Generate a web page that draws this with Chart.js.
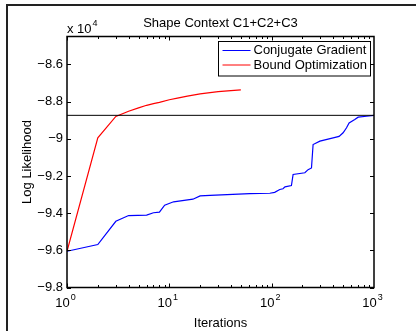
<!DOCTYPE html>
<html>
<head>
<meta charset="utf-8">
<title>Shape Context C1+C2+C3</title>
<script src="https://cdn.jsdelivr.net/npm/chart.js@4/dist/chart.umd.min.js"></script>
<style>
  html, body { margin: 0; padding: 0; background: #fff; }
  #wrap { position: relative; width: 416px; height: 331px; overflow: hidden; }
  #frame { position: absolute; left: 6px; top: 4px; width: 430px; height: 350px; border: 2px solid #222; }
  #chart { position: absolute; left: 0; top: 0; }
</style>
</head>
<body>
<div id="wrap">
  <div id="frame"></div>
  <canvas id="chart" width="416" height="331"></canvas>
</div>
<script>
const FONT = "'Liberation Sans', Arial, Helvetica, sans-serif";

const titleText = "Shape Context C1+C2+C3";
const xTitle = "Iterations";
const yTitle = "Log Likelihood";

// conjugate gradient
const cgIter = [1, 2, 3, 4, 6, 7, 8, 9, 11, 17, 20, 25, 61, 96, 107, 120, 129, 135,
  156, 162, 211, 227, 245, 254, 296, 399, 456, 499, 539, 571, 649, 700, 845, 1000];
const cgLL = [-96050, -95690, -94440, -94130, -94110, -93980, -93950, -93570, -93390,
  -93250, -93070, -93050, -92950, -92930, -92880, -92730, -92690, -92590,
  -92520, -91920, -91830, -91660, -91570, -90310, -90130, -89950, -89870, -89680,
  -89410, -89150, -88970, -88840, -88790, -88740];

// bound optimization
const boIter = [1, 2, 3, 4, 5, 6, 7, 8, 10, 12, 15, 20, 25, 30, 40, 50];
const boLL = [-96050, -89950, -88800, -88520, -88340, -88200, -88110, -88040,
  -87900, -87810, -87710, -87590, -87520, -87470, -87410, -87370];

// horizontal reference line
const refIter = [1, 1000];
const refLL = [-88740, -88740];

const yTicks = [-98000, -96000, -94000, -92000, -90000, -88000, -86000];
const xTicks = [1, 10, 100, 1000];

function pts(xs, ys) {
  return xs.map((x, i) => ({ x: x, y: ys[i] }));
}

function minus(s) {
  return String(s).replace("-", "\u2212");
}

const matlabAxes = {
  id: "matlabAxes",
  afterDraw(chart) {
    const ctx = chart.ctx;
    const a = chart.chartArea;
    const xs = chart.scales.x;
    const ys = chart.scales.y;

    ctx.save();
    ctx.strokeStyle = "#000";
    ctx.lineWidth = 1;

    // ticks, pointing inward on all four sides
    ctx.beginPath();
    for (let k = 0; k < 3; k++) {
      for (let m = 1; m < 10; m++) {
        const v = m * Math.pow(10, k);
        const px = Math.round(xs.getPixelForValue(v)) + 0.5;
        const len = m === 1 ? 4 : 2.5;
        ctx.moveTo(px, a.bottom); ctx.lineTo(px, a.bottom - len);
        ctx.moveTo(px, a.top); ctx.lineTo(px, a.top + len);
      }
    }
    yTicks.forEach((v) => {
      const py = Math.round(ys.getPixelForValue(v)) + 0.5;
      ctx.moveTo(a.left, py); ctx.lineTo(a.left + 4, py);
      ctx.moveTo(a.right, py); ctx.lineTo(a.right - 4, py);
    });
    ctx.stroke();

    // axes box
    ctx.lineWidth = 1.5;
    ctx.strokeRect(a.left, a.top, a.right - a.left, a.bottom - a.top);

    // title, centred over the axes
    ctx.fillStyle = "#000";
    ctx.font = "13px " + FONT;
    ctx.textAlign = "center";
    ctx.textBaseline = "middle";
    ctx.fillText(titleText, (a.left + a.right) / 2, a.top - 13.5);

    // x tick labels 10^k
    ctx.textBaseline = "alphabetic";
    xTicks.forEach((v, i) => {
      const px = xs.getPixelForValue(v);
      ctx.font = "13px " + FONT;
      const w1 = ctx.measureText("10").width;
      ctx.font = "9px " + FONT;
      const w2 = ctx.measureText(String(i)).width;
      const x0 = px - 1.5 - (w1 + w2 + 1) / 2;
      ctx.font = "13px " + FONT;
      ctx.textAlign = "left";
      ctx.fillText("10", x0, a.bottom + 19);
      ctx.font = "9px " + FONT;
      ctx.fillText(String(i), x0 + w1 + 1, a.bottom + 12);
    });

    // exponent note above the y axis
    ctx.font = "13px " + FONT;
    ctx.textAlign = "left";
    ctx.fillText("x 10", a.left, a.top - 4);
    const wn = ctx.measureText("x 10").width;
    ctx.font = "9px " + FONT;
    ctx.fillText("4", a.left + wn + 1, a.top - 11);

    // legend
    const lx = 218.5, ly = 41.5, lw = 152, lh = 34.5;
    ctx.fillStyle = "#fff";
    ctx.fillRect(lx, ly, lw, lh);
    ctx.lineWidth = 1;
    ctx.strokeRect(lx, ly, lw, lh);
    ctx.font = "13px " + FONT;
    ctx.textBaseline = "middle";
    [0, 1].forEach((i) => {
      const ds = chart.data.datasets[i + 1];
      const yy = ly + 9 + i * 14.5;
      ctx.strokeStyle = ds.borderColor;
      ctx.beginPath();
      ctx.moveTo(lx + 4, yy); ctx.lineTo(lx + 32, yy);
      ctx.stroke();
      ctx.fillStyle = "#000";
      ctx.fillText(ds.label, lx + 35, yy);
    });
    ctx.restore();
  }
};

new Chart(document.getElementById("chart"), {
  type: "line",
  data: {
    datasets: [
      {
        label: "reference",
        data: pts(refIter, refLL),
        borderColor: "#000",
        borderWidth: 1,
      },
      {
        label: "Conjugate Gradient",
        data: pts(cgIter, cgLL),
        borderColor: "#0000ff",
        borderWidth: 1.2,
      },
      {
        label: "Bound Optimization",
        data: pts(boIter, boLL),
        borderColor: "#ff0000",
        borderWidth: 1.2,
      },
    ],
  },
  options: {
    responsive: false,
    animation: false,
    events: [],
    elements: { point: { radius: 0 }, line: { tension: 0 } },
    layout: { padding: { left: 0, right: 42, top: 36.5, bottom: 0 } },
    plugins: {
      legend: { display: false },
      tooltip: { enabled: false },
      title: { display: false },
    },
    scales: {
      x: {
        type: "logarithmic",
        min: 1,
        max: 1000,
        grid: { display: false, drawTicks: false },
        border: { display: false },
        ticks: { callback: () => "" },
        title: {
          display: true,
          text: xTitle,
          color: "#000",
          font: { family: FONT, size: 13 },
          padding: { top: 0, bottom: 0 },
        },
        afterFit: (s) => { s.height = 43.5; },
      },
      y: {
        min: -98000,
        max: -84500,
        grid: { display: false, drawTicks: false },
        border: { display: false },
        afterBuildTicks: (s) => { s.ticks = yTicks.map((v) => ({ value: v })); },
        ticks: {
          color: "#000",
          font: { family: FONT, size: 13 },
          padding: 4,
          callback: (v) => minus(v / 10000),
        },
        title: {
          display: true,
          text: yTitle,
          color: "#000",
          font: { family: FONT, size: 13 },
          padding: { top: 20, bottom: 0 },
        },
        afterFit: (s) => { s.width = 67; },
      },
    },
  },
  plugins: [matlabAxes],
});
</script>
</body>
</html>
